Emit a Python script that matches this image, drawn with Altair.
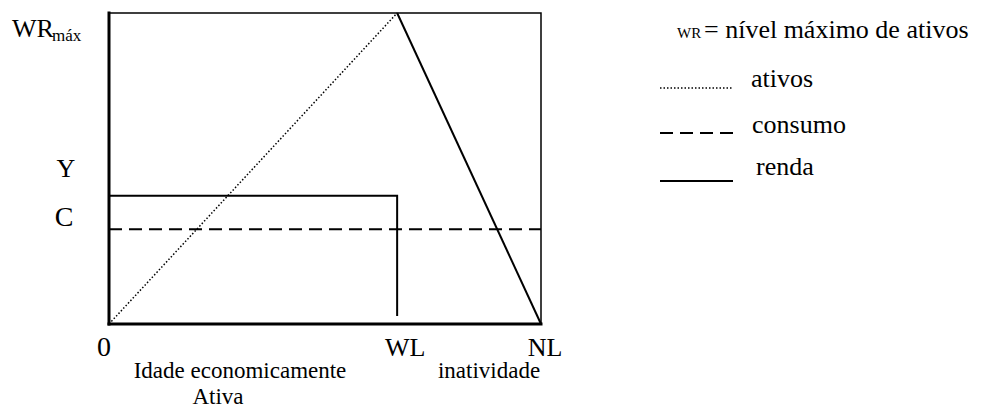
import altair as alt
import pandas as pd

# ---- data (model values) ----
WL = 66.7          # end of working life
NL = 100.0         # end of life
WR_MAX = 100.0     # maximum wealth
Y_LEVEL = 41.2     # income level
C_LEVEL = 30.5     # consumption level
RENDA_END = 2.6    # where the income drop line stops

ativos_x = [0, WL, NL]
ativos_y = [0, WR_MAX, 0]

renda_x = [0, WL, WL]
renda_y = [Y_LEVEL, Y_LEVEL, RENDA_END]

consumo_x = [0, NL]
consumo_y = [C_LEVEL, C_LEVEL]

x_tick_labels = ["0", "WL", "NL"]
x_tick_values = [0, WL, NL]
x_tick_shift = [-5, 8, 4]
x_tick_sizes = [28, 26, 26]

legend_names = ["ativos", "consumo", "renda"]
legend_dash = [[1.5, 2], [13, 7], []]

FONT = "Liberation Serif, Times New Roman, serif"
W, H = 432, 311

xs = alt.Scale(domain=[0, NL], nice=False, zero=True)
ys = alt.Scale(domain=[0, WR_MAX], nice=False, zero=True)

layers = []

# rising wealth (dotted)
df_up = pd.DataFrame({"x": ativos_x[:2], "y": ativos_y[:2]})
layers.append(alt.Chart(df_up).mark_line(color="black", strokeWidth=1.5, strokeDash=[1.5, 2]).encode(
    x=alt.X("x:Q", scale=xs, axis=None), y=alt.Y("y:Q", scale=ys, axis=None)))
# falling wealth (solid)
df_down = pd.DataFrame({"x": ativos_x[1:], "y": ativos_y[1:]})
layers.append(alt.Chart(df_down).mark_line(color="black", strokeWidth=2).encode(
    x=alt.X("x:Q", scale=xs, axis=None), y=alt.Y("y:Q", scale=ys, axis=None)))
# income
df_r = pd.DataFrame({"x": renda_x, "y": renda_y, "o": list(range(len(renda_x)))})
layers.append(alt.Chart(df_r).mark_line(color="black", strokeWidth=2).encode(
    x=alt.X("x:Q", scale=xs, axis=None), y=alt.Y("y:Q", scale=ys, axis=None), order="o:Q"))
# consumption
df_c = pd.DataFrame({"x": consumo_x, "y": consumo_y})
layers.append(alt.Chart(df_c).mark_line(color="black", strokeWidth=2, strokeDash=[13, 7]).encode(
    x=alt.X("x:Q", scale=xs, axis=None), y=alt.Y("y:Q", scale=ys, axis=None)))

# thick left and bottom axes
layers.append(alt.Chart().mark_rule(color="black", strokeWidth=3, strokeCap="square").encode(
    x=alt.datum(0, scale=xs), y=alt.datum(0, scale=ys), y2=alt.datum(WR_MAX)))
layers.append(alt.Chart().mark_rule(color="black", strokeWidth=3, strokeCap="square").encode(
    y=alt.datum(0, scale=ys), x=alt.datum(0, scale=xs), x2=alt.datum(NL)))

def txt(s, x, y, size=26, align="left", baseline="alphabetic"):
    return alt.Chart().mark_text(text=s, font=FONT, fontSize=size, align=align,
                                 baseline=baseline, color="black").encode(
        x=alt.value(x), y=alt.value(y))

# x tick labels
for lab, v, sh, sz in zip(x_tick_labels, x_tick_values, x_tick_shift, x_tick_sizes):
    layers.append(alt.Chart().mark_text(text=lab, font=FONT, fontSize=sz, align="center",
                                        baseline="alphabetic", dx=sh, color="black").encode(
        x=alt.datum(v, scale=xs), y=alt.value(343)))

# y labels
layers.append(txt("Y", -43, 164, 26, "center"))
layers.append(txt("C", -45, 213, 28, "center"))
layers.append(txt("WR", -97, 24, 26))
layers.append(txt("máx", -57, 28, 17))

# bottom descriptions
layers.append(txt("Idade economicamente", 131, 364.5, 23, "center"))
layers.append(txt("Ativa", 109, 390.5, 23, "center"))
layers.append(txt("inatividade", 380, 364.5, 23, "center"))

# legend
layers.append(txt("WR", 568, 25, 15))
layers.append(txt("= nível máximo de ativos", 595, 25, 26))
legend_y = [75, 120, 168]
text_y = [74, 120, 162]
text_x = [642, 643, 647]
for name, dash, ly, ty, tx in zip(legend_names, legend_dash, legend_y, text_y, text_x):
    kw = dict(color="black", strokeWidth=1.5 if name == "ativos" else 2)
    if dash:
        kw["strokeDash"] = dash
    layers.append(alt.Chart().mark_rule(**kw).encode(
        x=alt.value(551), x2=alt.value(624), y=alt.value(ly)))
    layers.append(txt(name, tx, ty, 26))

chart = alt.layer(*layers).properties(
    width=W, height=H,
    autosize=alt.AutoSizeParams(type="none"),
    padding={"left": 101, "top": 5, "right": 433, "bottom": 85},
).configure_view(stroke="black", strokeWidth=1.5)

chart.save("out.html", embed_options={"renderer": "svg", "actions": False})
